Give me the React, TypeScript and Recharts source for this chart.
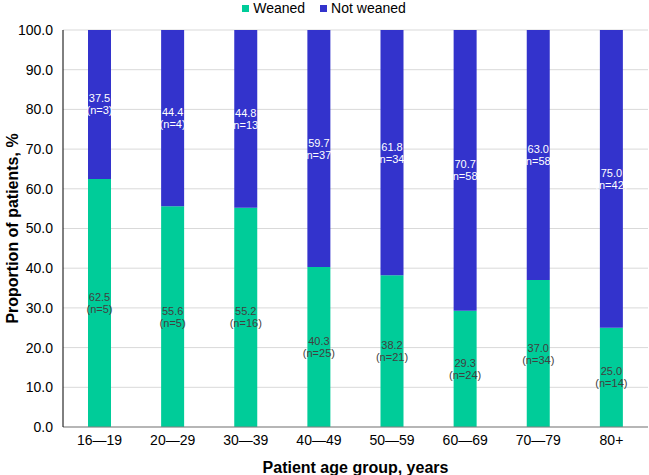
import React from 'react';
import { BarChart, Bar, XAxis, YAxis, CartesianGrid, Legend, LabelList } from 'recharts';

const ageGroups = ['16—19', '20—29', '30—39', '40—49', '50—59', '60—69', '70—79', '80+'];
const weanedPct = [62.5, 55.6, 55.2, 40.3, 38.2, 29.3, 37.0, 25.0];
const weanedN = [5, 5, 16, 25, 21, 24, 34, 14];
const notWeanedPct = [37.5, 44.4, 44.8, 59.7, 61.8, 70.7, 63.0, 75.0];
const notWeanedN = [3, 4, 13, 37, 34, 58, 58, 42];
const yTicks = [0, 10, 20, 30, 40, 50, 60, 70, 80, 90, 100];

const GREEN = '#00cc99';
const BLUE = '#3333cc';
const FONT = '"Liberation Sans", Arial, sans-serif';

const data = ageGroups.map((g, i) => ({
  group: g,
  weaned: weanedPct[i],
  weanedN: weanedN[i],
  notWeaned: notWeanedPct[i],
  notWeanedN: notWeanedN[i],
}));

const makeLabel = (nList: number[], color: string) => (props: any) => {
  const { x, y, width, height, value, index } = props;
  const cx = x + width / 2;
  const cy = y + height / 2;
  return (
    <text x={cx} y={cy} textAnchor="middle" fontSize={11} fontFamily={FONT} fill={color}>
      <tspan x={cx} dy={-2}>{Number(value).toFixed(1)}</tspan>
      <tspan x={cx} dy={12}>(n={nList[index]})</tspan>
    </text>
  );
};

const LegendContent = () => (
  <div style={{ display: 'flex', justifyContent: 'center', fontFamily: FONT, fontSize: 14, color: '#000', lineHeight: '16px' }}>
    <span style={{ display: 'flex', alignItems: 'center', marginRight: 15 }}>
      <span style={{ width: 7, height: 7, background: GREEN, marginRight: 4 }} />Weaned
    </span>
    <span style={{ display: 'flex', alignItems: 'center' }}>
      <span style={{ width: 7, height: 7, background: BLUE, marginRight: 4 }} />Not weaned
    </span>
  </div>
);

const App = () => {
  return (
    <div style={{ position: 'absolute', left: 0, top: 0, background: '#fff' }}>
      <BarChart width={649} height={475} data={data} margin={{ top: 14, right: 1, left: 0, bottom: 0 }} barCategoryGap="0%">
        <CartesianGrid horizontal vertical={false} stroke="#d9d9d9" />
        <Legend verticalAlign="top" align="center" content={<LegendContent />} wrapperStyle={{ top: 0, height: 16 }} />
        <XAxis
          dataKey="group"
          tickLine={false}
          axisLine={{ stroke: '#808080' }}
          tick={{ fontSize: 14, fontFamily: FONT, fill: '#000' }}
          height={48}
          label={{ value: 'Patient age group, years', position: 'insideBottom', offset: 2, fontSize: 16, fontWeight: 'bold', fontFamily: FONT, fill: '#000' }}
        />
        <YAxis
          domain={[0, 100]}
          ticks={yTicks}
          interval={0}
          tickFormatter={(v) => Number(v).toFixed(1)}
          tickLine={false}
          tickSize={0}
          tickMargin={10}
          axisLine={{ stroke: '#000' }}
          tick={{ fontSize: 14, fontFamily: FONT, fill: '#000' }}
          width={63}
          label={{ value: 'Proportion of patients, %', angle: -90, position: 'insideLeft', offset: 12, style: { textAnchor: 'middle' }, fontSize: 16, fontWeight: 'bold', fontFamily: FONT, fill: '#000' }}
        />
        <Bar dataKey="weaned" stackId="a" fill={GREEN} barSize={23} isAnimationActive={false}>
          <LabelList dataKey="weaned" content={makeLabel(weanedN, '#404040')} />
        </Bar>
        <Bar dataKey="notWeaned" stackId="a" fill={BLUE} barSize={23} isAnimationActive={false}>
          <LabelList dataKey="notWeaned" content={makeLabel(notWeanedN, '#ffffff')} />
        </Bar>
      </BarChart>
    </div>
  );
};

export default App;
